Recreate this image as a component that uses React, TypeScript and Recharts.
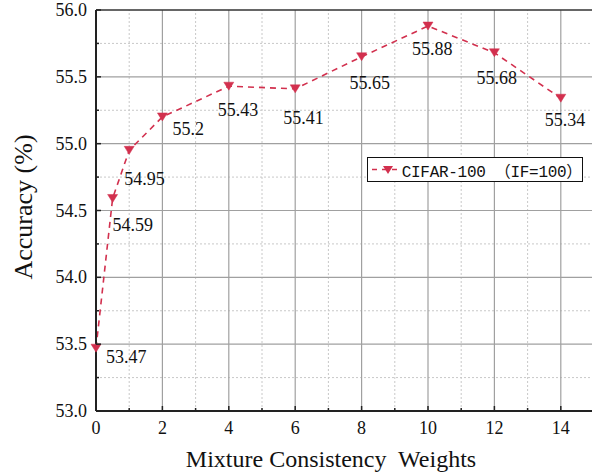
import React from "react";
import {
  LineChart,
  Line,
  XAxis,
  YAxis,
  ReferenceLine,
  LabelList,
} from "recharts";

const weights = [0, 0.5, 1, 2, 4, 6, 8, 10, 12, 14];
const accuracy = [53.47, 54.59, 54.95, 55.2, 55.43, 55.41, 55.65, 55.88, 55.68, 55.34];

const xTicks = [0, 1, 2, 3, 4, 5, 6, 7, 8, 9, 10, 11, 12, 13, 14, 15];
const yTicks = [53, 53.25, 53.5, 53.75, 54, 54.25, 54.5, 54.75, 55, 55.25, 55.5, 55.75, 56];
const xMajor = [2, 4, 6, 8, 10, 12, 14];
const xMinor = [1, 3, 5, 7, 9, 11, 13, 15];
const yMajor = [53.5, 54, 54.5, 55, 55.5];
const yMinor = [53.25, 53.75, 54.25, 54.75, 55.25, 55.75];

// label nudges (dx to left edge, dy to text middle) per point
const labelNudge = [
  [10, 9],
  [0, 27],
  [-5, 29],
  [10, 12],
  [-11, 24],
  [-12, 29],
  [-12, 26],
  [-16, 23],
  [-18, 25],
  [-16, 22],
];

const data = weights.map((w, i) => ({ w, acc: accuracy[i] }));

const RED = "#d2304e";
const FONT = "'Liberation Serif', 'Times New Roman', serif";
const serif = { fontFamily: FONT };

const Triangle = (props: any) => {
  const { cx, cy } = props;
  if (cx == null || cy == null) return null;
  return (
    <polygon
      points={`${cx - 5},${cy - 4} ${cx + 5},${cy - 4} ${cx},${cy + 4}`}
      fill={RED}
      stroke={RED}
      strokeWidth={0.5}
    />
  );
};

const XTick = (props: any) => {
  const { x, y, payload } = props;
  const v = payload.value;
  const major = v % 2 === 0;
  return (
    <g>
      <line x1={x} y1={y} x2={x} y2={y - (major ? 5 : 3)} stroke="#222" strokeWidth={1.5} />
      {major && v < 15 && (
        <text x={x} y={y + 17} textAnchor="middle" dominantBaseline="central" fontSize={18} style={serif} fill="#111">
          {v}
        </text>
      )}
    </g>
  );
};

const YTick = (props: any) => {
  const { x, y, payload } = props;
  const v = payload.value;
  const major = Math.abs(v * 2 - Math.round(v * 2)) < 1e-6;
  return (
    <g>
      <line x1={x} y1={y} x2={x + (major ? 5 : 3)} y2={y} stroke="#222" strokeWidth={1.5} />
      {major && (
        <text x={x - 9} y={y} textAnchor="end" dominantBaseline="central" fontSize={18} style={serif} fill="#111">
          {v.toFixed(1)}
        </text>
      )}
    </g>
  );
};

const PointLabel = (props: any) => {
  const { x, y, value, index } = props;
  const [dx, dy] = labelNudge[index] || [0, 20];
  return (
    <text x={x + dx} y={y + dy} textAnchor="start" dominantBaseline="central" fontSize={18} style={serif} fill="#111">
      {value}
    </text>
  );
};

const LegendBox = () => (
  <div
    style={{
      position: "absolute",
      left: 367,
      top: 157,
      width: 214,
      height: 23,
      border: "1px solid #111",
      background: "#fff",
      display: "flex",
      alignItems: "center",
    }}
  >
    <svg width={38} height={23}>
      <line x1={3} y1={11.5} x2={36} y2={11.5} stroke={RED} strokeWidth={1.5} strokeDasharray="5 5" strokeDashoffset={-1} />
      <polygon points="15,8 25,8 20,16" fill={RED} />
    </svg>
    <span
      style={{
        fontFamily: "'Liberation Mono', 'Noto Sans CJK SC', monospace",
        fontSize: 16,
        color: "#111",
        whiteSpace: "pre",
        letterSpacing: -0.3,
      }}
    >
      CIFAR-100 （IF=100）
    </span>
  </div>
);

export default function App() {
  return (
    <div style={{ position: "absolute", left: 0, top: 0, width: 592, height: 473, overflow: "hidden", background: "#fff" }}>
      <LineChart width={600} height={473} data={data} margin={{ top: 10, right: 6, left: 0, bottom: 0 }}>
        {xMinor.map((v) => (
          <ReferenceLine key={`xm${v}`} x={v} stroke="#c8c8c8" strokeDasharray="2 2" />
        ))}
        {yMinor.map((v) => (
          <ReferenceLine key={`ym${v}`} y={v} stroke="#c8c8c8" strokeDasharray="2 2" />
        ))}
        {xMajor.map((v) => (
          <ReferenceLine key={`xM${v}`} x={v} stroke="#a0a0a0" strokeWidth={1.2} />
        ))}
        {yMajor.map((v) => (
          <ReferenceLine key={`yM${v}`} y={v} stroke="#a0a0a0" strokeWidth={1.2} />
        ))}
        <ReferenceLine y={56} stroke="#333" strokeWidth={1.5} />
        <XAxis
          dataKey="w"
          type="number"
          domain={[0, 15]}
          ticks={xTicks}
          interval={0}
          tickSize={0}
          tickMargin={0}
          tickLine={false}
          tick={<XTick />}
          height={62}
          stroke="#222"
          strokeWidth={2}
          label={() => (
            <text x={331} y={467} textAnchor="middle" fontSize={24} style={{ ...serif, whiteSpace: "pre" }} fill="#111">
              {"Mixture Consistency\u00A0 Weights"}
            </text>
          )}
        />
        <YAxis
          type="number"
          domain={[53, 56]}
          ticks={yTicks}
          interval={0}
          tickSize={0}
          tickMargin={0}
          tickLine={false}
          tick={<YTick />}
          width={96}
          stroke="#222"
          strokeWidth={2}
          label={() => (
            <text
              x={32}
              y={207}
              transform="rotate(-90 32 207)"
              textAnchor="middle"
              fontSize={26}
              style={serif}
              fill="#111"
            >
              Accuracy (%)
            </text>
          )}
        />
        <Line
          dataKey="acc"
          stroke={RED}
          strokeWidth={1.6}
          strokeDasharray="6 5"
          dot={<Triangle />}
          activeDot={false}
          isAnimationActive={false}
        >
          <LabelList dataKey="acc" content={<PointLabel />} />
        </Line>
      </LineChart>
      <LegendBox />
    </div>
  );
}
